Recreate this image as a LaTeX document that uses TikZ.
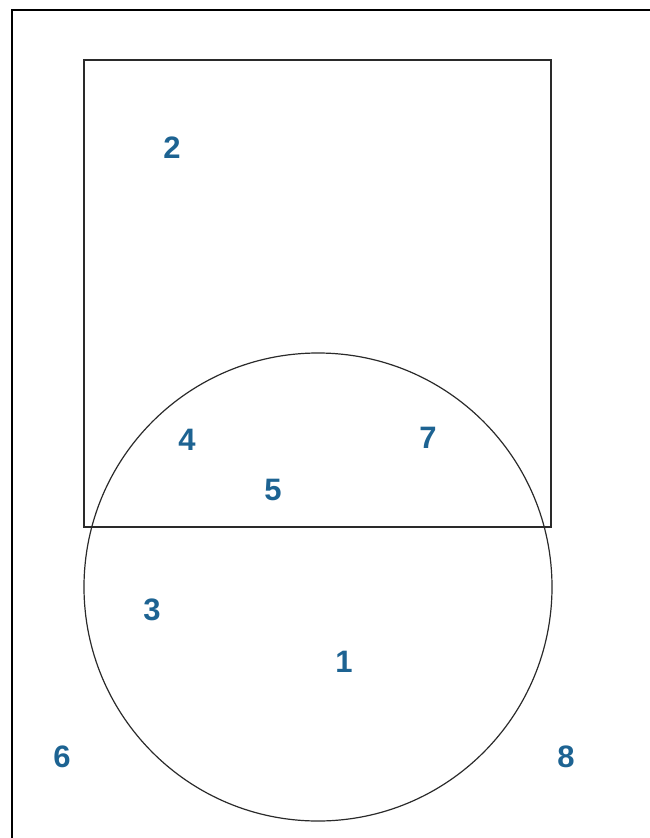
\documentclass[tikz,border=0pt]{standalone}
\usepackage{fontspec}
\setmainfont{Liberation Sans}
\usepackage{tikz}
\usetikzlibrary{positioning}
\definecolor{RegionBlue}{HTML}{1D6392}
\definecolor{EdgeGrey}{HTML}{2A2A2A}
\tikzset{
  region/.style={RegionBlue, font=\fontsize{31}{31}\selectfont\bfseries, inner sep=0pt},
  edge/.style={EdgeGrey, line width=1.2pt}
}

\begin{document}
\begin{tikzpicture}[x=1pt, y=-1pt]
  \useasboundingbox (0,0) rectangle (650,838);
  % outer frame (only left and top inside the picture)
  \draw[black, line width=2pt] (12,838) -- (12,10) -- (650,10);
  % square
  \draw[edge] (84,60) rectangle (551,527);
  % circle
  \draw[edge] (318,587) circle[radius=234];
  % region numbers
  \node[region] (r2) at (172,148) {2};
  \node[region] (r4) at (187,440) {4};
  \node[region] (r7) at (428,438) {7};
  \node[region] (r5) at (273,490) {5};
  \node[region] (r3) at (152,610) {3};
  \node[region] (r1) at (344,662) {1};
  \node[region] (r6) at (62,757) {6};
  \node[region] (r8) at (566,757) {8};
\end{tikzpicture}
\end{document}
